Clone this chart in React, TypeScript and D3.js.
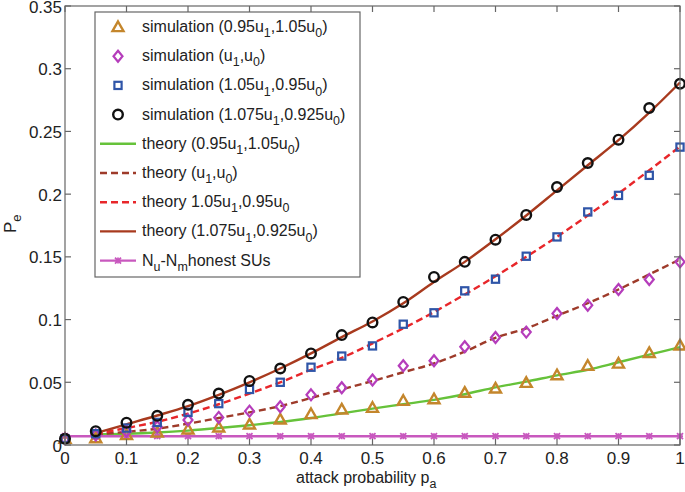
import React from "react";
import * as d3 from "d3";

const W = 685, H = 492;
const M = { left: 65, right: 680, top: 6, bottom: 445 };

const xSim = [0, 0.05, 0.1, 0.15, 0.2, 0.25, 0.3, 0.35, 0.4, 0.45, 0.5, 0.55, 0.6, 0.65, 0.7, 0.75, 0.8, 0.85, 0.9, 0.95, 1];
const simA = [0.005, 0.0055, 0.008, 0.010, 0.0125, 0.0141, 0.0165, 0.0204, 0.0247, 0.0284, 0.0297, 0.0353, 0.0366, 0.0417, 0.0451, 0.0496, 0.0557, 0.0632, 0.065, 0.0735, 0.0794];
const simB = [0.005, 0.008, 0.011, 0.0146, 0.0199, 0.022, 0.027, 0.0305, 0.040, 0.0456, 0.0518, 0.0632, 0.0672, 0.0783, 0.0857, 0.090, 0.1048, 0.1115, 0.124, 0.132, 0.146];
const simC = [0.005, 0.009, 0.0135, 0.018, 0.026, 0.033, 0.0443, 0.050, 0.062, 0.0709, 0.079, 0.0963, 0.1054, 0.1229, 0.1322, 0.1505, 0.1659, 0.1858, 0.199, 0.215, 0.2375];
const simD = [0.005, 0.011, 0.0178, 0.0233, 0.032, 0.041, 0.0511, 0.061, 0.073, 0.0876, 0.0977, 0.1141, 0.134, 0.146, 0.1637, 0.1834, 0.2057, 0.2248, 0.2434, 0.2686, 0.288];
const honest = [0.007, 0.007, 0.007, 0.007, 0.007, 0.007, 0.007, 0.007, 0.007, 0.007, 0.007, 0.007, 0.007, 0.007, 0.007, 0.007, 0.007, 0.007, 0.007, 0.007, 0.007];

const xTh = [0.05, 0.1, 0.15, 0.2, 0.25, 0.3, 0.35, 0.4, 0.45, 0.5, 0.55, 0.6, 0.65, 0.7, 0.75, 0.8, 0.85, 0.9, 0.95, 1];
const thA = [0.0085, 0.009, 0.010, 0.0115, 0.0135, 0.0158, 0.0183, 0.0215, 0.0252, 0.029, 0.0325, 0.036, 0.0405, 0.046, 0.0505, 0.0555, 0.060, 0.066, 0.072, 0.078];
const thB = [0.0085, 0.0105, 0.013, 0.017, 0.0215, 0.026, 0.031, 0.0375, 0.0443, 0.051, 0.058, 0.065, 0.0745, 0.0855, 0.093, 0.103, 0.113, 0.124, 0.136, 0.148];
const thC = [0.009, 0.0135, 0.0185, 0.025, 0.0325, 0.041, 0.050, 0.060, 0.0695, 0.081, 0.093, 0.106, 0.12, 0.1345, 0.15, 0.166, 0.183, 0.2005, 0.219, 0.238];
const thD = [0.0095, 0.0165, 0.0235, 0.031, 0.040, 0.050, 0.061, 0.073, 0.086, 0.0985, 0.113, 0.13, 0.146, 0.164, 0.183, 0.203, 0.223, 0.243, 0.265, 0.289];

const xTicks = [0, 0.1, 0.2, 0.3, 0.4, 0.5, 0.6, 0.7, 0.8, 0.9, 1];
const xTickLabels = ["0", "0.1", "0.2", "0.3", "0.4", "0.5", "0.6", "0.7", "0.8", "0.9", "1"];
const yTicks = [0, 0.05, 0.1, 0.15, 0.2, 0.25, 0.3, 0.35];
const yTickLabels = ["0", "0.05", "0.1", "0.15", "0.2", "0.25", "0.3", "0.35"];

const legendLabels = [
  "simulation (0.95u_1,1.05u_0)",
  "simulation (u_1,u_0)",
  "simulation (1.05u_1,0.95u_0)",
  "simulation (1.075u_1,0.925u_0)",
  "theory (0.95u_1,1.05u_0)",
  "theory (u_1,u_0)",
  "theory 1.05u_1,0.95u_0",
  "theory (1.075u_1,0.925u_0)",
  "N_u-N_mhonest SUs",
];

const C = {
  tri: "#c4862c",
  dia: "#b53dbb",
  sq: "#2f55a8",
  circ: "#111111",
  green: "#66c23a",
  brownDash: "#9e3b2a",
  red: "#e8262a",
  brown: "#a83a1e",
  pink: "#c858be",
  axis: "#666666",
};

const FONT = "Liberation Sans, Arial, sans-serif";

function RichText({ s, x, y, size }: { s: string; x: number; y: number; size: number }) {
  const parts: { t: string; sub: boolean }[] = [];
  let i = 0;
  let buf = "";
  while (i < s.length) {
    if (s[i] === "_") {
      if (buf) parts.push({ t: buf, sub: false });
      buf = "";
      parts.push({ t: s[i + 1], sub: true });
      i += 2;
    } else {
      buf += s[i];
      i++;
    }
  }
  if (buf) parts.push({ t: buf, sub: false });
  let prevSub = false;
  return (
    <text x={x} y={y} fontFamily={FONT} fontSize={size} fill="#222">
      {parts.map((p, k) => {
        let dy = 0;
        if (p.sub && !prevSub) dy = size * 0.32;
        if (!p.sub && prevSub) dy = -size * 0.32;
        prevSub = p.sub;
        return (
          <tspan key={k} dy={dy} fontSize={p.sub ? size * 0.78 : size}>
            {p.t}
          </tspan>
        );
      })}
    </text>
  );
}

function Marker({ type, x, y }: { type: string; x: number; y: number }) {
  if (type === "tri") {
    const s = 5.5;
    return <path d={`M${x},${y - s}L${x + s},${y + s * 0.75}L${x - s},${y + s * 0.75}Z`} fill="none" stroke={C.tri} strokeWidth={2.4} />;
  }
  if (type === "dia") {
    return <path d={`M${x},${y - 5.5}L${x + 4.5},${y}L${x},${y + 5.5}L${x - 4.5},${y}Z`} fill="none" stroke={C.dia} strokeWidth={2.2} />;
  }
  if (type === "sq") {
    return <rect x={x - 3.6} y={y - 3.6} width={7.2} height={7.2} fill="none" stroke={C.sq} strokeWidth={2.2} />;
  }
  if (type === "circ") {
    return <circle cx={x} cy={y} r={4.8} fill="none" stroke={C.circ} strokeWidth={2.4} />;
  }
  const s = 3;
  return (
    <g stroke={C.pink} strokeWidth={1.8}>
      <line x1={x - s} y1={y - s} x2={x + s} y2={y + s} />
      <line x1={x - s} y1={y + s} x2={x + s} y2={y - s} />
      <line x1={x} y1={y - s} x2={x} y2={y + s} />
      <line x1={x - s} y1={y} x2={x + s} y2={y} />
    </g>
  );
}

export default function App() {
  const xs = d3.scaleLinear().domain([0, 1]).range([M.left, M.right]);
  const ys = d3.scaleLinear().domain([0, 0.35]).range([M.bottom, M.top]);
  const line = d3
    .line<[number, number]>()
    .x((d) => xs(d[0]))
    .y((d) => ys(d[1]))
    .curve(d3.curveMonotoneX);
  const zipTh = (arr: number[]) => xTh.map((x, i) => [x, arr[i]] as [number, number]);
  const zipSim = (arr: number[]) => xSim.map((x, i) => [x, arr[i]] as [number, number]);

  const theories = [
    { d: thA, color: C.green, dash: undefined },
    { d: thB, color: C.brownDash, dash: "7,4" },
    { d: thC, color: C.red, dash: "7,4" },
    { d: thD, color: C.brown, dash: undefined },
  ];
  const sims = [
    { d: simA, type: "tri" },
    { d: simB, type: "dia" },
    { d: simC, type: "sq" },
    { d: simD, type: "circ" },
  ];

  const legX = 95, legY = 12, legW = 265, legH = 265;
  const rowY0 = 27, rowStep = 29.2;

  return (
    <svg width={W} height={H} style={{ position: "absolute", left: 0, top: 0, background: "#fff" }}>
      <rect x={0} y={0} width={W} height={H} fill="#fff" />
      {theories.map((t, i) => (
        <path key={i} d={line(zipTh(t.d)) || ""} fill="none" stroke={t.color} strokeWidth={2.4} strokeDasharray={t.dash} />
      ))}
      <path d={d3.line<[number, number]>().x((d) => xs(d[0])).y((d) => ys(d[1]))(zipSim(honest)) || ""} fill="none" stroke={C.pink} strokeWidth={2.4} />
      {zipSim(honest).map((p, i) => (
        <Marker key={"h" + i} type="star" x={xs(p[0])} y={ys(p[1])} />
      ))}
      {sims.map((s, si) =>
        zipSim(s.d).map((p, i) => <Marker key={si + "-" + i} type={s.type} x={xs(p[0])} y={ys(p[1])} />)
      )}

      <rect x={M.left} y={M.top} width={M.right - M.left} height={M.bottom - M.top} fill="none" stroke={C.axis} strokeWidth={1.2} />
      {xTicks.map((t, i) => (
        <g key={"xt" + i}>
          <line x1={xs(t)} x2={xs(t)} y1={M.bottom} y2={M.bottom - 6} stroke={C.axis} strokeWidth={1.2} />
          <line x1={xs(t)} x2={xs(t)} y1={M.top} y2={M.top + 6} stroke={C.axis} strokeWidth={1.2} />
          <text x={xs(t)} y={464} textAnchor="middle" fontFamily={FONT} fontSize={17} fill="#222">
            {xTickLabels[i]}
          </text>
        </g>
      ))}
      {yTicks.map((t, i) => (
        <g key={"yt" + i}>
          <line x1={M.left} x2={M.left + 6} y1={ys(t)} y2={ys(t)} stroke={C.axis} strokeWidth={1.2} />
          <line x1={M.right} x2={M.right - 6} y1={ys(t)} y2={ys(t)} stroke={C.axis} strokeWidth={1.2} />
          <text x={M.left - 3} y={ys(t) + 6.5} textAnchor="end" fontFamily={FONT} fontSize={17} fill="#222">
            {yTickLabels[i]}
          </text>
        </g>
      ))}

      <RichText s="attack probability p_a" x={296} y={483} size={16} />
      <g transform="translate(16,233) rotate(-90)">
        <RichText s="P_e" x={0} y={0} size={17} />
      </g>

      <rect x={legX} y={legY} width={legW} height={legH} fill="#fff" stroke={C.axis} strokeWidth={1.2} />
      {legendLabels.map((lab, i) => {
        const y = rowY0 + i * rowStep;
        let sym: React.ReactNode = null;
        if (i < 4) {
          sym = <Marker type={sims[i].type} x={118} y={y} />;
        } else if (i < 8) {
          const t = theories[i - 4];
          sym = <line x1={100} x2={136} y1={y} y2={y} stroke={t.color} strokeWidth={2.4} strokeDasharray={t.dash} />;
        } else {
          sym = (
            <g>
              <line x1={100} x2={136} y1={y} y2={y} stroke={C.pink} strokeWidth={2.4} />
              <Marker type="star" x={118} y={y} />
            </g>
          );
        }
        return (
          <g key={"lg" + i}>
            {sym}
            <RichText s={lab} x={142} y={y + 5} size={16} />
          </g>
        );
      })}
    </svg>
  );
}
